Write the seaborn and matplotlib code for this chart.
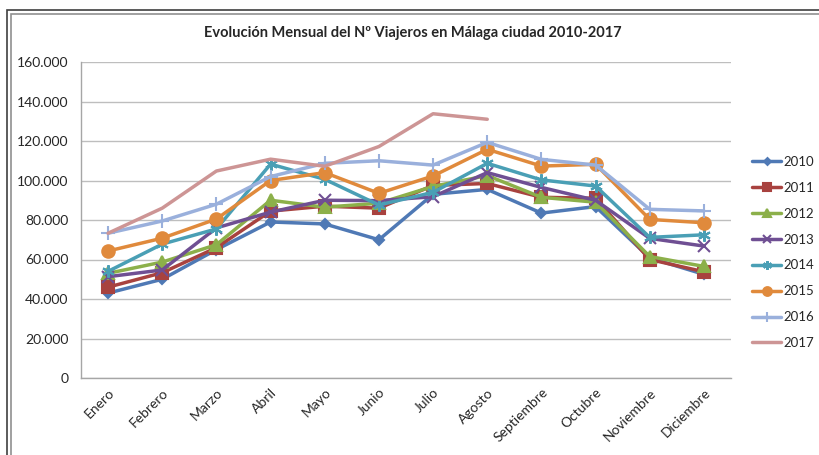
import matplotlib
matplotlib.use("Agg")
import matplotlib.pyplot as plt
import matplotlib.patches as mpatches
from matplotlib.ticker import FuncFormatter
import seaborn as sns
import pandas as pd
import numpy as np

months = ["Enero", "Febrero", "Marzo", "Abril", "Mayo", "Junio", "Julio",
          "Agosto", "Septiembre", "Octubre", "Noviembre", "Diciembre"]

v2010 = [43000, 50000, 65000, 79000, 78000, 70000, 93000, 95500, 83500, 86800, 60800, 52500]
v2011 = [46000, 53300, 66000, 84500, 87000, 86000, 97500, 98500, 91500, 91000, 60000, 53800]
v2012 = [53000, 58700, 67500, 90000, 86500, 88500, 97000, 102500, 91500, 89000, 61500, 56500]
v2013 = [51300, 54700, 76000, 84000, 90000, 89800, 91800, 104000, 96500, 90000, 70700, 66800]
v2014 = [54000, 67800, 75500, 108300, 100600, 87600, 94000, 108700, 100300, 97200, 71200, 72500]
v2015 = [64300, 70800, 80500, 100000, 104000, 93500, 102300, 115800, 107300, 108200, 80300, 78600]
v2016 = [73300, 79500, 88000, 102000, 108700, 110000, 107800, 119300, 110700, 107800, 85400, 84600]
v2017 = [73300, 86000, 104800, 110800, 107200, 117200, 133800, 131000]

years = ["2010", "2011", "2012", "2013", "2014", "2015", "2016", "2017"]
series = [v2010, v2011, v2012, v2013, v2014, v2015, v2016, v2017]

colors = ["#4F79B5", "#A8423F", "#8CB04A", "#6F4F93", "#4A9FB5", "#E08A3C", "#9AB0DC", "#CD9595"]
markers = ["D", "s", "^", "x", (6, 2, 0), "o", "+", None]
msizes = [5, 8, 8, 8, 9, 9, 10, 0]

sns.set_theme(style="white")
plt.rcParams["font.family"] = ["Lato", "DejaVu Sans"]

fig = plt.figure(figsize=(8.19, 4.55), dpi=100)
ax = fig.add_axes([81 / 819, 1 - 378 / 455, (731 - 81) / 819, (378 - 62) / 455])

rows = []
for y, vals in zip(years, series):
    for i, v in enumerate(vals):
        rows.append({"mes": i, "year": y, "viajeros": v})
df = pd.DataFrame(rows)

for y, c, m, ms in zip(years, colors, markers, msizes):
    sub = df[df["year"] == y]
    kw = {}
    if m is not None:
        kw = dict(marker=m, markersize=ms, markeredgecolor=c, markerfacecolor=c,
                  markeredgewidth=1.5)
    sns.lineplot(data=sub, x="mes", y="viajeros", color=c, linewidth=2.5,
                 label=y, ax=ax, **kw)

ax.set_xlim(-0.5, 11.5)
ax.set_ylim(0, 160000)
ax.set_yticks(np.arange(0, 160001, 20000))
ax.yaxis.set_major_formatter(FuncFormatter(lambda v, p: f"{int(v):,}".replace(",", ".")))
ax.set_xticks(range(12))
ax.set_xticklabels(months, rotation=45, ha="right", rotation_mode="anchor", fontsize=10)
ax.tick_params(axis="y", labelsize=10, length=0, pad=9)
ax.tick_params(axis="x", length=0, pad=6)
ax.set_xlabel("")
ax.set_ylabel("")
ax.grid(axis="y", color="#BEBEBE", linewidth=1)
ax.set_axisbelow(True)
for s in ["top", "right"]:
    ax.spines[s].set_visible(False)
for s in ["left", "bottom"]:
    ax.spines[s].set_color("#A6A6A6")
    ax.spines[s].set_linewidth(1)

handles, labels = ax.get_legend_handles_labels()
leg = ax.legend(handles, labels, loc="upper left", bbox_to_anchor=(752 / 819, 1 - 156 / 455),
                bbox_transform=fig.transFigure, frameon=False, fontsize=9.5,
                handlelength=2.2, labelspacing=1.05, handletextpad=0.15, borderaxespad=0,
                borderpad=0, markerscale=0.7)

fig.text(413 / 819, 1 - 33 / 455, "Evolución Mensual del Nº Viajeros en Málaga ciudad 2010-2017",
         ha="center", va="center", fontsize=10.5, fontweight="bold")

# outer chart frame (double line)
for off in (0, 4):
    fig.patches.append(mpatches.Rectangle(((7 + off) / 819, -0.1), 1.2, 1 - (10 + off) / 455 + 0.1,
                                          transform=fig.transFigure, fill=False,
                                          edgecolor="#404040" if off == 0 else "#909090",
                                          linewidth=1.2, zorder=0))

fig.savefig("out.png", dpi=100, facecolor="white")
